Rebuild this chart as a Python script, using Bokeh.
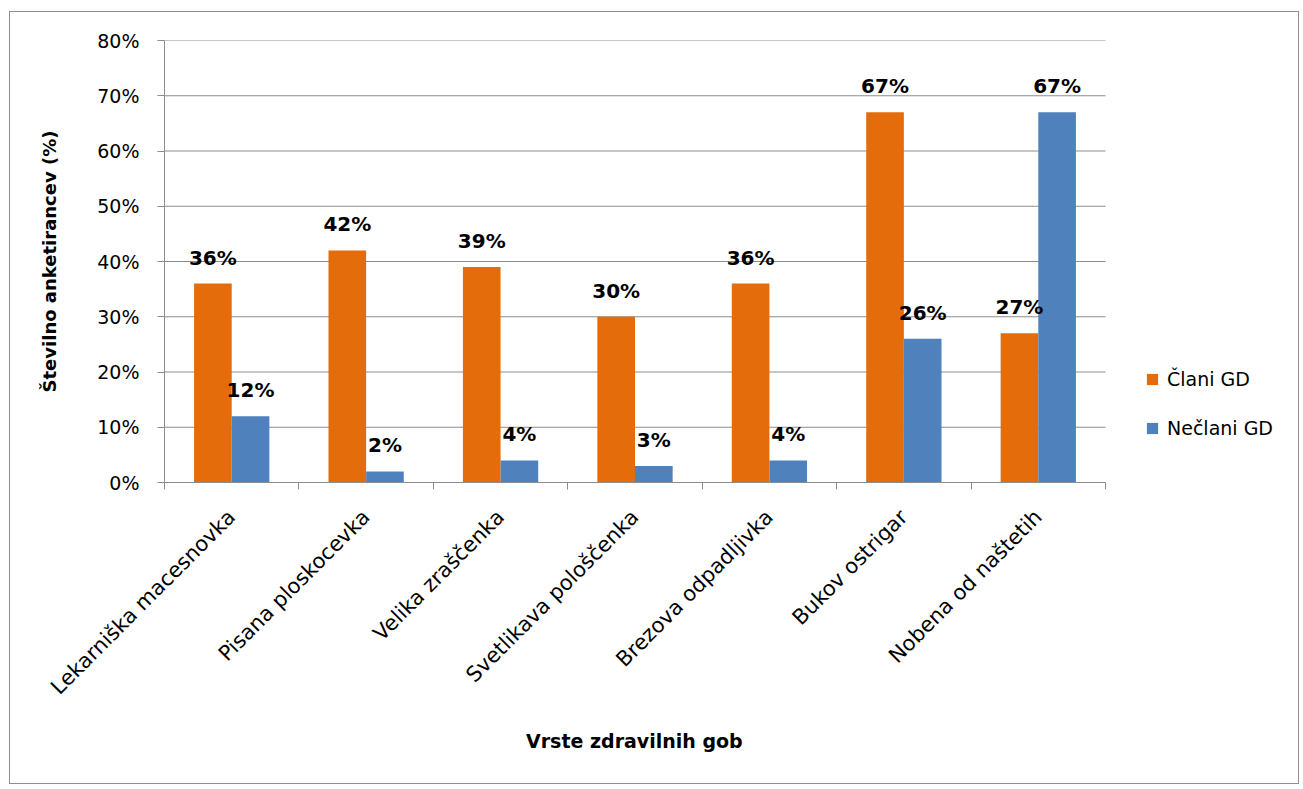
import math
from bokeh.plotting import figure
from bokeh.models import (ColumnDataSource, FixedTicker, LabelSet, Legend, LegendItem,
                          PrintfTickFormatter, Range1d, Title)
from bokeh.transform import dodge
from bokeh.core.properties import value
from bokeh.embed import file_html
from bokeh.resources import INLINE

# ---- data ----
categories = ["Lekarniška macesnovka", "Pisana ploskocevka", "Velika zraščenka",
              "Svetlikava pološčenka", "Brezova odpadljivka", "Bukov ostrigar",
              "Nobena od naštetih"]
clani = [36, 42, 39, 30, 36, 67, 27]
neclani = [12, 2, 4, 3, 4, 26, 67]
series_names = ["Člani GD", "Nečlani GD"]
y_ticks = [0, 10, 20, 30, 40, 50, 60, 70, 80]
x_title = "Vrste zdravilnih gob"
y_title = "Številno anketirancev (%)"

# ---- style ----
FONT = "DejaVu Sans"
ORANGE = "#E46C0A"
BLUE = "#4F81BD"
GRID = "#8C8C8C"
OFF = 0.14
BW = 0.28
FIG_W, FIG_H = 1290, 773
LEFT, TOP, BOTTOM = 154, 28, 303
CAT_W = 941            # pixel width of the category area
FRAME_W = FIG_W - LEFT  # frame extends right so the legend can live inside it

n = len(categories)
centers = [i + 0.5 for i in range(n)]
source = ColumnDataSource(dict(
    x=centers, clani=clani, neclani=neclani,
    lab_c=[f"{v}%" for v in clani], lab_n=[f"{v}%" for v in neclani]))

p = figure(width=FIG_W, height=FIG_H, x_range=Range1d(0, n * FRAME_W / CAT_W),
           y_range=Range1d(0, y_ticks[-1]),
           output_backend="svg", toolbar_location=None,
           min_border_left=LEFT, min_border_right=0, min_border_top=TOP, min_border_bottom=BOTTOM)
p.styles = {"margin-left": "9px", "margin-top": "11px", "border": "1px solid #8E8E8E"}
p.outline_line_color = None
p.background_fill_color = "white"
p.border_fill_color = "white"
p.xgrid.visible = False
p.ygrid.visible = False

# horizontal gridlines over the category area only
p.segment(x0=0, x1=n, y0=y_ticks[1:], y1=y_ticks[1:], line_color=GRID, line_width=1)

r1 = p.vbar(x=dodge("x", -OFF), top="clani", width=BW, source=source,
            fill_color=ORANGE, line_color=None)
r2 = p.vbar(x=dodge("x", OFF), top="neclani", width=BW, source=source,
            fill_color=BLUE, line_color=None)

for xs, col, lab in ((-OFF, "clani", "lab_c"), (OFF, "neclani", "lab_n")):
    p.add_layout(LabelSet(x=dodge("x", xs), y=col, text=lab, source=source,
                          y_offset=19, text_align="center", text_baseline="alphabetic",
                          text_font=value(FONT), text_font_style="bold",
                          text_font_size="20px", text_color="black"))

# x axis
xa = p.xaxis[0]
xa.bounds = (0, n)
xa.ticker = FixedTicker(ticks=centers, minor_ticks=list(range(n + 1)))
xa.major_label_overrides = {c: cat for c, cat in zip(centers, categories)}
xa.major_tick_out = 0
xa.major_tick_in = 0
xa.minor_tick_out = 7
xa.minor_tick_in = 0
xa.minor_tick_line_color = GRID
xa.axis_line_color = GRID
xa.major_label_orientation = math.pi / 4
xa.major_label_standoff = 24
xa.major_label_text_font = FONT
xa.major_label_text_font_size = "21px"
xa.major_label_text_color = "black"

# x axis title, centred under the category area
p.add_layout(Title(text=x_title, align="left", offset=CAT_W / 2 - 109, standoff=35,
                   text_font=FONT, text_font_style="bold", text_font_size="19px",
                   text_color="black"), "below")

# y axis
ya = p.yaxis[0]
ya.ticker = FixedTicker(ticks=y_ticks)
ya.formatter = PrintfTickFormatter(format="%d%%")
ya.major_tick_out = 7
ya.major_tick_in = 0
ya.minor_tick_line_color = None
ya.major_tick_line_color = GRID
ya.axis_line_color = GRID
ya.major_label_standoff = 18
ya.major_label_text_font = FONT
ya.major_label_text_font_size = "19px"
ya.major_label_text_color = "black"
ya.axis_label = y_title
ya.axis_label_text_font = FONT
ya.axis_label_text_font_style = "bold"
ya.axis_label_text_font_size = "18px"
ya.axis_label_text_color = "black"
ya.axis_label_standoff = 34

legend = Legend(items=[LegendItem(label=series_names[0], renderers=[r1]),
                       LegendItem(label=series_names[1], renderers=[r2])],
                location=(CAT_W + 40, 43), orientation="vertical",
                glyph_width=14, glyph_height=14, label_height=20, spacing=27,
                padding=0, margin=0, label_standoff=8,
                label_text_font=FONT, label_text_font_size="19px", label_text_color="black",
                border_line_color=None, background_fill_alpha=0)
p.add_layout(legend)

open("out.html", "w").write(file_html(p, INLINE))
